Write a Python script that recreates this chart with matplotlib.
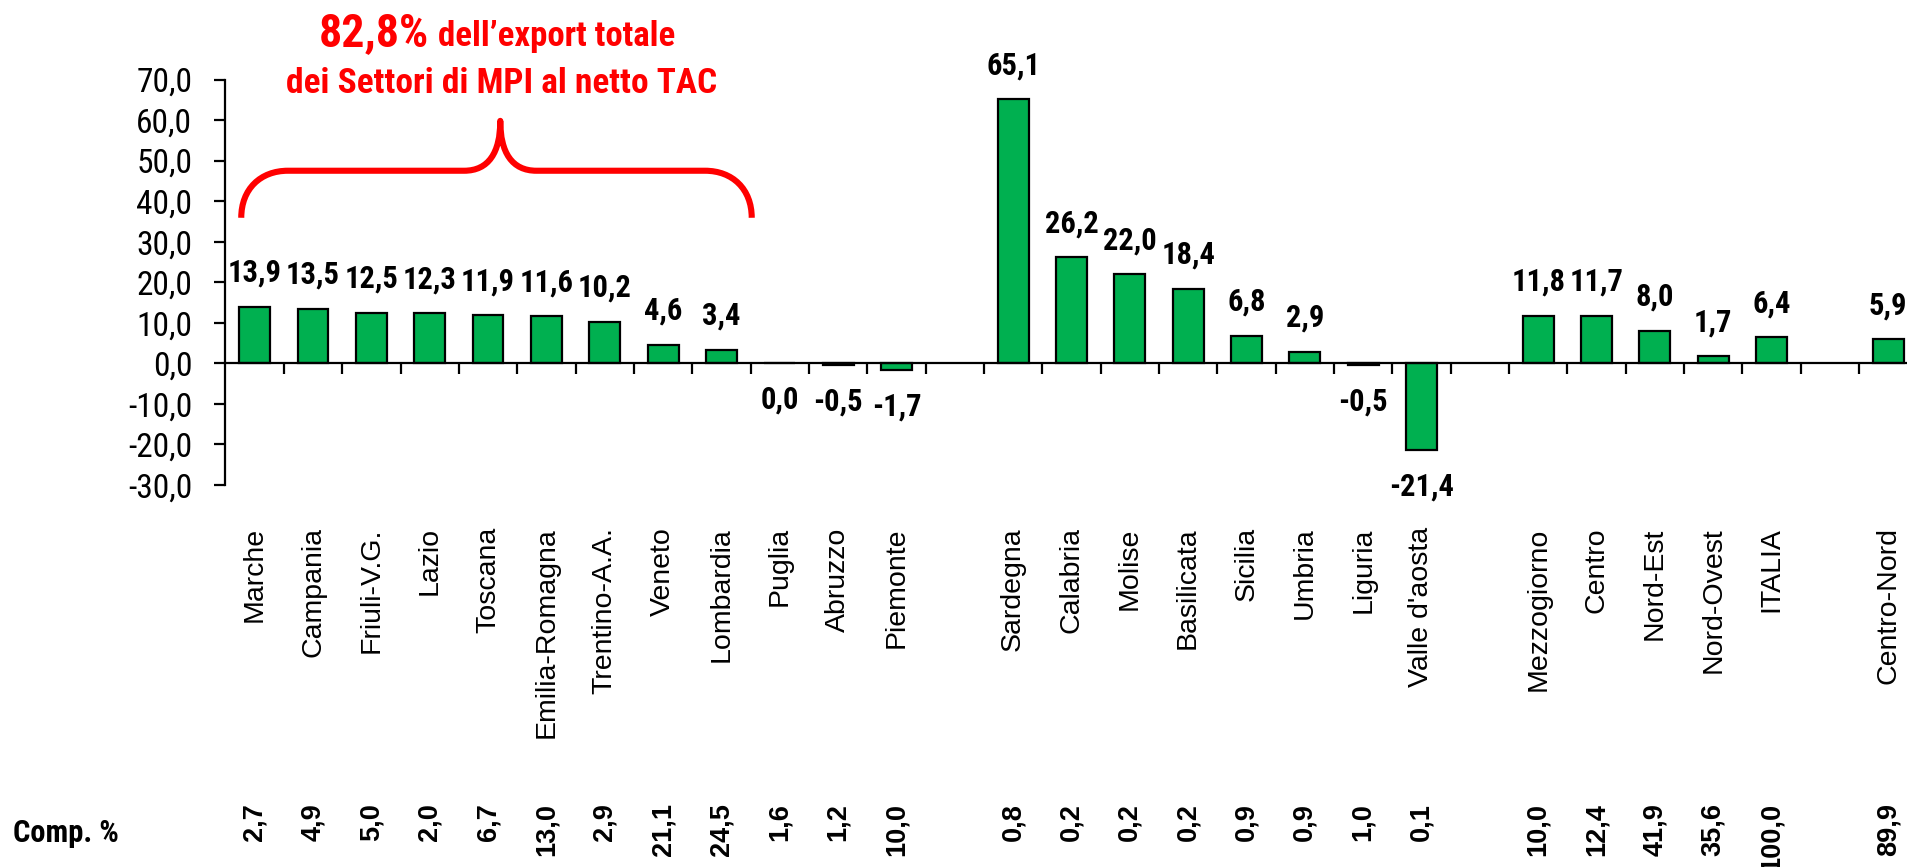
import numpy as np
import matplotlib
matplotlib.use("Agg")
import matplotlib.pyplot as plt
from matplotlib import font_manager
from matplotlib.path import Path
from matplotlib.patches import PathPatch
from matplotlib.ticker import FixedLocator

# ---------------- data ----------------
regions_a = ['Marche', 'Campania', 'Friuli-V.G.', 'Lazio', 'Toscana', 'Emilia-Romagna',
             'Trentino-A.A.', 'Veneto', 'Lombardia', 'Puglia', 'Abruzzo', 'Piemonte']
values_a = [13.9, 13.5, 12.5, 12.3, 11.9, 11.6, 10.2, 4.6, 3.4, 0.0, -0.5, -1.7]
comp_a = [2.7, 4.9, 5.0, 2.0, 6.7, 13.0, 2.9, 21.1, 24.5, 1.6, 1.2, 10.0]

regions_b = ['Sardegna', 'Calabria', 'Molise', 'Basilicata', 'Sicilia', 'Umbria',
             'Liguria', "Valle d'aosta"]
values_b = [65.1, 26.2, 22.0, 18.4, 6.8, 2.9, -0.5, -21.4]
comp_b = [0.8, 0.2, 0.2, 0.2, 0.9, 0.9, 1.0, 0.1]

areas_c = ['Mezzogiorno', 'Centro', 'Nord-Est', 'Nord-Ovest', 'ITALIA']
values_c = [11.8, 11.7, 8.0, 1.7, 6.4]
comp_c = [10.0, 12.4, 41.9, 35.6, 100.0]

areas_d = ['Centro-Nord']
values_d = [5.9]
comp_d = [89.9]

groups = [(regions_a, values_a, comp_a), (regions_b, values_b, comp_b),
          (areas_c, values_c, comp_c), (areas_d, values_d, comp_d)]

yticks = [-30, -20, -10, 0, 10, 20, 30, 40, 50, 60, 70]

# ---------------- fonts ----------------
names = {f.name for f in font_manager.fontManager.ttflist}
narrow = None
for cand in ['Liberation Sans Narrow', 'Arial Narrow', 'Roboto Condensed',
             'Open Sans Condensed']:
    if cand in names:
        narrow = cand
        break
if narrow is None:
    narrow = 'Liberation Sans'
REG = ['Liberation Sans', 'DejaVu Sans']
NAR = [narrow, 'Liberation Sans', 'DejaVu Sans']

GREEN = '#00B050'
RED = '#FF0000'

def fmt(v):
    return f"{v:.1f}".replace('.', ',')

# positions: groups separated by one empty slot
labels, vals, comps, pos = [], [], [], []
p = 0
for gi, (lab, vv, cc) in enumerate(groups):
    for l, v, c in zip(lab, vv, cc):
        labels.append(l); vals.append(v); comps.append(c); pos.append(p)
        p += 1
    p += 1
nslots = p - 1

W, H = 1908, 867
fig = plt.figure(figsize=(W / 100, H / 100), dpi=100)
ax = fig.add_axes([225.5 / W, 1 - 485 / H, nslots * 58.34 / W, 405.5 / H])

ax.bar(pos, vals, width=0.53, color=GREEN, edgecolor='black', linewidth=1.6, zorder=3)

ax.set_xlim(-0.5, nslots - 0.5)
ax.set_ylim(-30, 70)

for s in ['top', 'right']:
    ax.spines[s].set_visible(False)
ax.spines['left'].set_linewidth(1.6)
ax.spines['bottom'].set_linewidth(1.6)
ax.spines['bottom'].set_position(('data', 0))
ax.spines['bottom'].set_zorder(4)

ax.set_yticks(yticks)
ax.set_yticklabels([fmt(t) for t in yticks], family=NAR, fontsize=24)
ax.tick_params(axis='y', direction='out', length=8, width=1.6, pad=16)

ax.set_xticks(pos)
ax.set_xticklabels(labels, rotation=90, family=REG, fontsize=20.5, va='top', ha='center')
ax.tick_params(axis='x', which='major', length=0, pad=118)
ax.xaxis.set_minor_locator(FixedLocator(np.arange(0.5, nslots - 0.5, 1.0)))
ax.tick_params(axis='x', which='minor', direction='out', length=8, width=1.6)

# data labels (zero and negative values are labelled below the axis)
for x, v in zip(pos, vals):
    off = 34 if v > 0 else -36
    ax.annotate(fmt(v), (x, v), xytext=(0, off * 0.72), textcoords='offset points',
                ha='center', va='center', family=NAR, fontweight='bold', fontsize=22,
                annotation_clip=False)

# composition row
tr = matplotlib.transforms.blended_transform_factory(ax.transData, fig.transFigure)
for x, c in zip(pos, comps):
    ax.text(x, 1 - 803 / H, fmt(c), transform=tr, rotation=90, ha='center', va='top',
            family=REG, fontweight='bold', fontsize=19.5, clip_on=False)
fig.text(12.7 / W, 1 - 841.5 / H, 'Comp. %', family=NAR, fontweight='bold', fontsize=22,
         ha='left', va='baseline')

# title annotation
fig.text(429 / W, 1 - 46 / H, '82,8%', family=NAR, fontweight='bold', fontsize=33,
         color=RED, ha='right', va='baseline')
fig.text(438 / W, 1 - 46 / H, 'dell\u2019export totale', family=NAR, fontweight='bold',
         fontsize=25, color=RED, ha='left', va='baseline')
fig.text(502 / W, 1 - 93.3 / H, 'dei Settori di MPI al netto TAC', family=NAR,
         fontweight='bold', fontsize=25.5, color=RED, ha='center', va='baseline')

# brace (in data coordinates over the first group)
xl, xr, xm = -0.23, 8.52, 4.21
yb, yh, yp = 35.9, 47.5, 59.8
verts = [(xl, yb), (xl, 43.0), (xl + 0.33, yh), (xl + 0.80, yh),
         (xm - 0.62, yh),
         (xm - 0.20, yh), (xm, 52.0), (xm, yp),
         (xm, 52.0), (xm + 0.20, yh), (xm + 0.62, yh),
         (xr - 0.80, yh),
         (xr - 0.33, yh), (xr, 43.0), (xr, yb)]
codes = [Path.MOVETO, Path.CURVE4, Path.CURVE4, Path.CURVE4,
         Path.LINETO,
         Path.CURVE4, Path.CURVE4, Path.CURVE4,
         Path.CURVE4, Path.CURVE4, Path.CURVE4,
         Path.LINETO,
         Path.CURVE4, Path.CURVE4, Path.CURVE4]
ax.add_patch(PathPatch(Path(verts, codes), facecolor='none', edgecolor=RED, lw=4.4,
                       capstyle='butt', joinstyle='round', clip_on=False, zorder=5))

fig.savefig('out.png', dpi=100)
